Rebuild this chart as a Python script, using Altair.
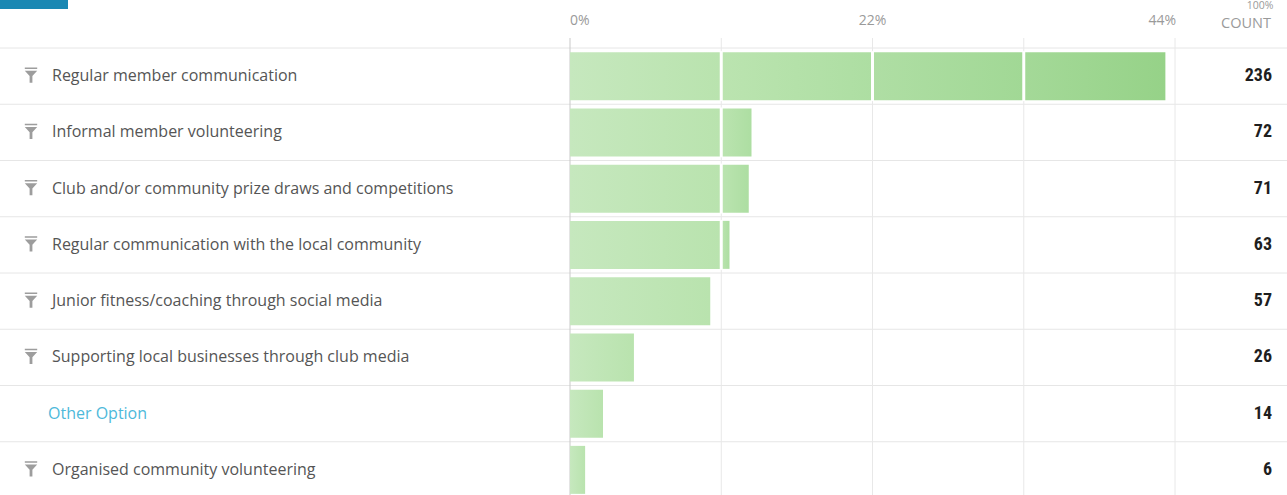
import altair as alt
import pandas as pd

# ---- data ----
categories = [
    "Regular member communication",
    "Informal member volunteering",
    "Club and/or community prize draws and competitions",
    "Regular communication with the local community",
    "Junior fitness/coaching through social media",
    "Supporting local businesses through club media",
    "Other Option",
    "Organised community volunteering",
]
counts = [236, 72, 71, 63, 57, 26, 14, 6]
percents = [43.3, 13.2, 13.0, 11.6, 10.2, 4.65, 2.4, 1.1]
has_filter_icon = [True, True, True, True, True, True, False, True]
grid_ticks = [0, 11, 22, 33, 44]
tick_label_values = [0, 22, 44]
tick_label_texts = ["0%", "22%", "44%"]

W, H = 1287, 495
FONT = "Open Sans"
NARROW = "Liberation Sans Narrow, Roboto Condensed, Roboto, sans-serif"

df = pd.DataFrame({
    "label": categories,
    "count": counts,
    "pct": percents,
    "icon": has_filter_icon,
})

# split every bar into pieces between grid ticks (the original shows white gaps at grid lines)
seg_rows = []
for cat, p in zip(categories, percents):
    for k in range(len(grid_ticks) - 1):
        s = grid_ticks[k]
        e = min(p, grid_ticks[k + 1])
        if e > s:
            seg_rows.append({"label": cat, "seg": k, "start": s, "end": e})
seg = pd.DataFrame(seg_rows)
grid = pd.DataFrame({"tick": grid_ticks})
tlabels = pd.DataFrame({"tick": tick_label_values, "text": tick_label_texts})

xs = alt.Scale(domain=[0, 44], range=[570, 1175])
ys = alt.Scale(domain=categories, range=[48, 498], paddingInner=0, paddingOuter=0)
Y = alt.Y("label:N", scale=ys, axis=None, sort=categories)

row_lines = alt.Chart(df).mark_rule(color="#e6e6e6", strokeWidth=1).encode(
    y=alt.Y("label:N", scale=ys, axis=None, sort=categories, bandPosition=0),
    x=alt.value(0), x2=alt.value(W),
)

grid_lines = alt.Chart(grid).transform_filter("datum.tick > 0").mark_rule(
    color="#e8e8e8", strokeWidth=1
).encode(x=alt.X("tick:Q", scale=xs, axis=None), y=alt.value(38), y2=alt.value(H))

zero_line = alt.Chart(grid).transform_filter("datum.tick == 0").mark_rule(
    color="#c9c9c9", strokeWidth=1
).encode(x=alt.X("tick:Q", scale=xs, axis=None), y=alt.value(38), y2=alt.value(H))

seg_colors = [
    ("#c6e8be", "#b9e3ae"),
    ("#bbe4b0", "#addea2"),
    ("#afdea4", "#a1d895"),
    ("#a4d998", "#96d288"),
]
bar_layers = []
for k, (c1, c2) in enumerate(seg_colors):
    bar_layers.append(
        alt.Chart(seg).transform_filter(f"datum.seg == {k}").mark_bar(
            size=48,
            fill=alt.Gradient(
                gradient="linear",
                stops=[alt.GradientStop(color=c1, offset=0), alt.GradientStop(color=c2, offset=1)],
                x1=0, x2=1, y1=0, y2=0,
            ),
        ).encode(
            x=alt.X("start:Q", scale=xs, axis=None),
            x2="end:Q",
            y=Y,
        )
    )

gaps = alt.Chart(seg).transform_filter("datum.seg > 0").mark_tick(
    color="white", thickness=3, size=50, opacity=1
).encode(x=alt.X("start:Q", scale=xs, axis=None), y=Y)

labels = alt.Chart(df).transform_filter("datum.icon").mark_text(
    align="left", baseline="middle", font=FONT, fontSize=16, color="#555555"
).encode(x=alt.value(52), y=Y, text="label:N")

other_label = alt.Chart(df).transform_filter("!datum.icon").mark_text(
    align="left", baseline="middle", font=FONT, fontSize=16, color="#4db9da"
).encode(x=alt.value(48), y=Y, text="label:N")

funnel = "M-0.8,-1L0.8,-1L0.8,-0.78L-0.8,-0.78Z M-0.8,-0.58L0.8,-0.58L0.18,0.1L0.18,1L-0.18,1L-0.18,0.1Z"
icons = alt.Chart(df).transform_filter("datum.icon").mark_point(
    shape=funnel, filled=True, color="#9d9d9d", size=240, opacity=1, yOffset=-1
).encode(x=alt.value(31), y=Y)

count_text = alt.Chart(df).mark_text(
    align="right", baseline="middle", font=NARROW, fontSize=18, fontWeight="bold", color="#1e1e1e"
).encode(x=alt.value(1272), y=Y, text="count:Q")

tick_text_left = alt.Chart(tlabels).transform_filter("datum.tick == 0").mark_text(
    align="left", baseline="alphabetic", font=FONT, fontSize=14, color="#9a9a9a"
).encode(x=alt.X("tick:Q", scale=xs, axis=None), y=alt.value(25), text="text:N")
tick_text_mid = alt.Chart(tlabels).transform_filter("datum.tick == 22").mark_text(
    align="center", baseline="alphabetic", font=FONT, fontSize=14, color="#9a9a9a"
).encode(x=alt.X("tick:Q", scale=xs, axis=None), y=alt.value(25), text="text:N")
tick_text_right = alt.Chart(tlabels).transform_filter("datum.tick == 44").mark_text(
    align="right", baseline="alphabetic", font=FONT, fontSize=14, color="#9a9a9a", dx=1
).encode(x=alt.X("tick:Q", scale=xs, axis=None), y=alt.value(25), text="text:N")

count_head = alt.Chart(df).transform_filter("datum.count == 236").mark_text(
    text="COUNT", align="center", baseline="alphabetic", font=FONT, fontSize=14.5, color="#9a9a9a"
).encode(x=alt.value(1246), y=alt.value(28))
hundred = alt.Chart(df).transform_filter("datum.count == 236").mark_text(
    text="100%", align="center", baseline="top", font=FONT, fontSize=10.5, color="#9a9a9a"
).encode(x=alt.value(1260), y=alt.value(1))

tab = alt.Chart(df).transform_filter("datum.count == 236").mark_rect(color="#1a88b3").encode(
    x=alt.value(0), x2=alt.value(68), y=alt.value(0), y2=alt.value(9)
)

chart = alt.layer(
    row_lines, grid_lines, zero_line, *bar_layers, gaps,
    labels, other_label, icons, count_text,
    tick_text_left, tick_text_mid, tick_text_right, count_head, hundred, tab,
).properties(
    width=W, height=H, padding=0, autosize=alt.AutoSizeParams(type="none"), background="white"
).configure_view(stroke=None)

chart.save("out.html", embed_options={"renderer": "svg", "actions": False})
